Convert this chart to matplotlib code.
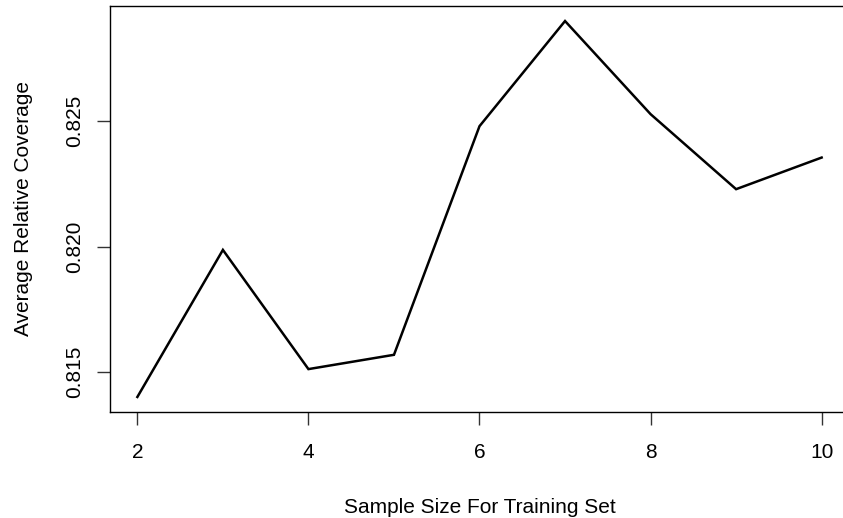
import matplotlib
matplotlib.use("Agg")
import matplotlib.pyplot as plt
import numpy as np

plt.rcParams['font.family'] = ['Liberation Sans', 'DejaVu Sans']

sample_size = [2, 3, 4, 5, 6, 7, 8, 9, 10]
coverage = [0.81401, 0.81987, 0.81512, 0.81569, 0.82480, 0.82899, 0.82528, 0.82229, 0.82355]
xticks = [2, 4, 6, 8, 10]
yticks = [0.815, 0.820, 0.825]

W, H = 843, 518
fig = plt.figure(figsize=(W / 100, H / 100), dpi=100)
# plot region in pixels (R-style box, right edge runs past the image)
left, right, top, bottom = 110, 849, 6, 412
ax = fig.add_axes([left / W, (H - bottom) / H, (right - left) / W, (bottom - top) / H])

ax.plot(sample_size, coverage, color='black', lw=1.8, solid_joinstyle='miter')

# R's default 4% axis extension
def r_lim(v):
    lo, hi = min(v), max(v)
    d = (hi - lo) * 0.04
    return lo - d, hi + d

ax.set_xlim(*r_lim(sample_size))
ax.set_ylim(*r_lim(coverage))

ax.set_xticks(xticks)
ax.set_xticklabels([str(t) for t in xticks])
ax.set_yticks(yticks)
ax.set_yticklabels(['%.3f' % t for t in yticks], rotation=90, va='center')

fs = 15
ax.tick_params(axis='both', length=9.5, width=1.0, labelsize=fs, color='#333333')
ax.tick_params(axis='x', pad=13)
ax.tick_params(axis='y', pad=9)
for s in ax.spines.values():
    s.set_linewidth(1.0)

ax.set_xlabel('Sample Size For Training Set', fontsize=fs, labelpad=26)
ax.set_ylabel('Average Relative Coverage', fontsize=fs, labelpad=23)

fig.savefig('out.png', dpi=100)
